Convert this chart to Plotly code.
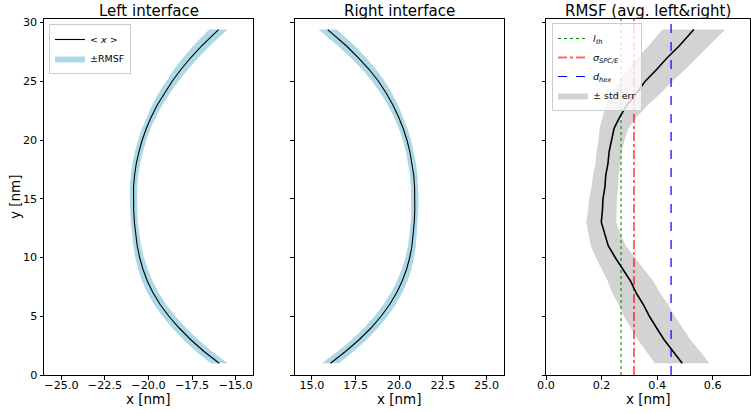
import plotly.graph_objects as go

# ---------------- data ----------------
y_nm = [1.0, 2, 3, 4, 5, 6, 7, 8, 9, 10, 11, 12, 13, 14, 15, 16, 17, 18, 19, 20,
        21, 22, 23, 24, 25, 26, 27, 28, 29, 29.4]

left_x = [-15.94, -16.81, -17.57, -18.24, -18.83, -19.33, -19.74, -20.07, -20.32, -20.51,
          -20.65, -20.75, -20.81, -20.85, -20.87, -20.86, -20.80, -20.70, -20.55, -20.36,
          -20.12, -19.83, -19.49, -19.09, -18.64, -18.14, -17.58, -16.96, -16.28, -15.98]

right_x = [16.06, 16.92, 17.70, 18.38, 18.96, 19.45, 19.85, 20.17, 20.42, 20.60,
           20.73, 20.81, 20.86, 20.89, 20.90, 20.88, 20.83, 20.74, 20.61, 20.44,
           20.22, 19.95, 19.63, 19.25, 18.81, 18.28, 17.66, 16.98, 16.22, 15.90]

rmsf = [0.490, 0.458, 0.425, 0.398, 0.372, 0.350, 0.324, 0.304, 0.276, 0.249,
        0.224, 0.211, 0.199, 0.203, 0.205, 0.212, 0.215, 0.223, 0.227, 0.236,
        0.245, 0.266, 0.292, 0.326, 0.357, 0.398, 0.436, 0.479, 0.516, 0.532]

std_err = [0.098, 0.097, 0.095, 0.093, 0.091, 0.089, 0.086, 0.082, 0.077, 0.070,
           0.063, 0.057, 0.054, 0.052, 0.050, 0.048, 0.046, 0.045, 0.045, 0.047,
           0.052, 0.062, 0.075, 0.088, 0.097, 0.103, 0.107, 0.110, 0.112, 0.113]

l_th = 0.27
sigma_spce = 0.3166
d_hex = 0.45

y_range = [0, 30.3]
x1_range = [-26, -14]
x2_range = [14, 26]
x3_range = [0, 0.734]

titles = ["Left interface", "Right interface", "RMSF (avg. left&right)"]

# ---------------- figure ----------------
FONT = "DejaVu Sans"
fig = go.Figure()


def band(xc, half):
    lo = [a - b for a, b in zip(xc, half)]
    hi = [a + b for a, b in zip(xc, half)]
    return lo + hi[::-1], list(y_nm) + list(y_nm)[::-1]


# panel 1 (band below, mean line on top)
bx, by = band(left_x, rmsf)
fig.add_trace(go.Scatter(x=bx, y=by, mode="lines", fill="toself", fillcolor="#ADD8E6",
                         line=dict(width=0, color="#ADD8E6"), name="±RMSF", legend="legend",
                         legendrank=2, xaxis="x", yaxis="y"))
fig.add_trace(go.Scatter(x=left_x, y=y_nm, mode="lines", line=dict(color="black", width=1.1),
                         name="&lt; <i>x</i> &gt;", legend="legend", legendrank=1,
                         xaxis="x", yaxis="y"))

# panel 2
bx, by = band(right_x, rmsf)
fig.add_trace(go.Scatter(x=bx, y=by, mode="lines", fill="toself", fillcolor="#ADD8E6",
                         line=dict(width=0, color="#ADD8E6"), showlegend=False,
                         xaxis="x2", yaxis="y2"))
fig.add_trace(go.Scatter(x=right_x, y=y_nm, mode="lines", line=dict(color="black", width=1.1),
                         showlegend=False, xaxis="x2", yaxis="y2"))

# panel 3 (band first, reference lines and mean on top)
bx, by = band(rmsf, std_err)
fig.add_trace(go.Scatter(x=bx, y=by, mode="lines", fill="toself", fillcolor="#D3D3D3",
                         line=dict(width=0, color="#D3D3D3"), name="± std err",
                         legend="legend2", legendrank=4, xaxis="x3", yaxis="y3"))
fig.add_trace(go.Scatter(x=[l_th, l_th], y=y_range, mode="lines",
                         line=dict(color="#008000", width=1, dash="dot"),
                         name="<i>l</i><sub><i>th</i></sub>", legend="legend2", legendrank=1,
                         xaxis="x3", yaxis="y3"))
fig.add_trace(go.Scatter(x=[sigma_spce, sigma_spce], y=y_range, mode="lines",
                         line=dict(color="rgba(255,0,0,0.6)", width=2, dash="dashdot"),
                         name="<i>σ</i><sub><i>SPC/E</i></sub>", legend="legend2",
                         legendrank=2, xaxis="x3", yaxis="y3"))
fig.add_trace(go.Scatter(x=[d_hex, d_hex], y=y_range, mode="lines",
                         line=dict(color="#0000ff", width=1.2, dash="dash"),
                         name="<i>d</i><sub><i>hex</i></sub>", legend="legend2", legendrank=3,
                         xaxis="x3", yaxis="y3"))
fig.add_trace(go.Scatter(x=rmsf, y=y_nm, mode="lines", line=dict(color="black", width=1.6),
                         showlegend=False, xaxis="x3", yaxis="y3"))

W, H = 751, 413
doms = [[44 / W, 253 / W], [294.5 / W, 504 / W], [546 / W, 750 / W]]
ydom = [1 - 375 / H, 1 - 19 / H]

axis_common = dict(showline=True, mirror=True, linecolor="black", linewidth=1,
                   ticks="outside", ticklen=3.5, tickwidth=1, tickcolor="black",
                   showgrid=False, zeroline=False, automargin=False,
                   tickfont=dict(family=FONT, size=11.2, color="black"))

fig.update_layout(
    width=W, height=H, margin=dict(l=0, r=0, t=0, b=0, pad=0, autoexpand=False),
    paper_bgcolor="white", plot_bgcolor="white",
    font=dict(family=FONT, color="black"),
    xaxis=dict(domain=doms[0], range=x1_range, dtick=2.5, tick0=0, tickformat=".1f",
               anchor="y", ticklabelstandoff=-4, **axis_common),
    xaxis2=dict(domain=doms[1], range=x2_range, dtick=2.5, tick0=0, tickformat=".1f",
                anchor="y2", ticklabelstandoff=-4, **axis_common),
    xaxis3=dict(domain=doms[2], range=x3_range, dtick=0.2, tick0=0, tickformat=".1f",
                anchor="y3", ticklabelstandoff=-4, **axis_common),
    yaxis=dict(domain=ydom, range=y_range, dtick=5, anchor="x", **axis_common),
    yaxis2=dict(domain=ydom, range=y_range, dtick=5, anchor="x2", showticklabels=False,
                **axis_common),
    yaxis3=dict(domain=ydom, range=y_range, dtick=5, anchor="x3", showticklabels=False,
                **axis_common),
    legend=dict(x=49 / W, y=1 - 24 / H, xanchor="left", yanchor="top",
                bgcolor="rgba(255,255,255,0.8)", bordercolor="#cccccc", borderwidth=1,
                font=dict(family=FONT, size=9.5), itemwidth=30, tracegroupgap=0,
                traceorder="normal"),
    legend2=dict(x=552 / W, y=1 - 23 / H, xanchor="left", yanchor="top",
                 bgcolor="rgba(255,255,255,0.8)", bordercolor="#cccccc", borderwidth=1,
                 font=dict(family=FONT, size=9.5), itemwidth=30, tracegroupgap=0,
                 traceorder="normal"),
    showlegend=True,
)

for dom, t in zip(doms, titles):
    cx = (dom[0] + dom[1]) / 2
    fig.add_annotation(x=cx, y=1 - 11 / H, xref="paper", yref="paper", text=t,
                       showarrow=False, xanchor="center", yanchor="middle",
                       font=dict(family=FONT, size=15, color="black"))
    fig.add_annotation(x=cx, y=1 - 399 / H, xref="paper", yref="paper", text="x [nm]",
                       showarrow=False, xanchor="center", yanchor="middle",
                       font=dict(family=FONT, size=13.5, color="black"))

fig.add_annotation(x=15 / W, y=(ydom[0] + ydom[1]) / 2, xref="paper", yref="paper",
                   text="y [nm]", textangle=-90, showarrow=False, xanchor="center",
                   yanchor="middle", font=dict(family=FONT, size=13.5, color="black"))

fig.write_html(
    "out.html",
    config={"displayModeBar": False},
    post_script="document.body.style.margin='0';document.body.style.overflow='hidden';",
)
